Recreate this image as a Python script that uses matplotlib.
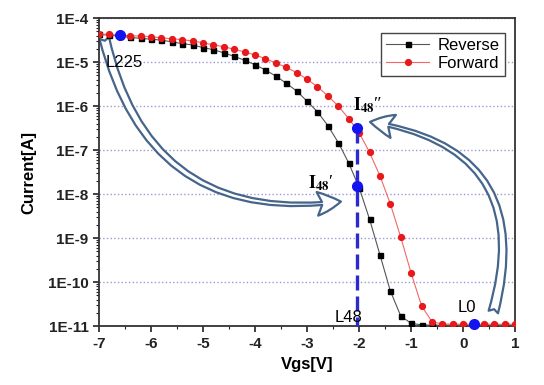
import matplotlib
matplotlib.use("Agg")
import matplotlib.pyplot as plt
import numpy as np
from matplotlib.patches import FancyArrowPatch
from matplotlib.ticker import FuncFormatter, LogLocator, MultipleLocator

# gate voltage sweep (V)
vgs = [-7.0, -6.8, -6.6, -6.4, -6.2, -6.0, -5.8, -5.6, -5.4, -5.2,
       -5.0, -4.8, -4.6, -4.4, -4.2, -4.0, -3.8, -3.6, -3.4, -3.2,
       -3.0, -2.8, -2.6, -2.4, -2.2, -2.0, -1.8, -1.6, -1.4, -1.2,
       -1.0, -0.8, -0.6, -0.4, -0.2, 0.0, 0.2, 0.4, 0.6, 0.8, 1.0]

current_reverse = [4.27e-5, 4.07e-5, 3.89e-5, 3.63e-5, 3.47e-5, 3.31e-5, 3.16e-5, 2.88e-5, 2.63e-5, 2.45e-5,
                   2.14e-5, 1.91e-5, 1.62e-5, 1.35e-5, 1.10e-5, 8.7e-6, 6.6e-6, 4.8e-6, 3.3e-6, 2.2e-6,
                   1.29e-6, 7.4e-7, 3.6e-7, 1.48e-7, 5.1e-8, 1.41e-8, 2.7e-9, 4.2e-10, 6.3e-11, 1.7e-11,
                   1.15e-11, 1.07e-11, 1.05e-11, 1.05e-11, 1.05e-11, 1.05e-11, 1.05e-11, 1.05e-11, 1.05e-11, 1.05e-11, 1.05e-11]

current_forward = [4.37e-5, 4.27e-5, 4.07e-5, 3.98e-5, 3.89e-5, 3.80e-5, 3.55e-5, 3.39e-5, 3.24e-5, 3.02e-5,
                   2.75e-5, 2.45e-5, 2.24e-5, 1.95e-5, 1.70e-5, 1.45e-5, 1.20e-5, 9.5e-6, 7.6e-6, 5.75e-6,
                   4.07e-6, 2.75e-6, 1.70e-6, 1.0e-6, 5.2e-7, 2.5e-7, 8.9e-8, 2.6e-8, 6.0e-9, 1.05e-9,
                   1.6e-10, 2.9e-11, 1.26e-11, 1.12e-11, 1.1e-11, 1.1e-11, 1.1e-11, 1.1e-11, 1.1e-11, 1.1e-11, 1.1e-11]

# highlighted points
marked_labels = ["L225", "I48''", "I48'", "L0"]
marked_vgs = [-6.6, -2.05, -2.05, 0.2]
marked_current = [4.07e-5, 3.1e-7, 1.55e-8, 1.1e-11]

plt.rcParams['font.family'] = ['Liberation Sans', 'DejaVu Sans']
plt.rcParams['axes.unicode_minus'] = False
plt.rcParams['mathtext.fontset'] = 'stix'

fig = plt.figure(figsize=(5.44, 3.85), dpi=100)
ax = fig.add_axes([0.182, 0.153, 0.765, 0.800])

ax.plot(vgs, current_reverse, color='#555555', lw=0.8, marker='s', ms=3.6,
        mfc='black', mec='black', label='Reverse', zorder=3)
ax.plot(vgs, current_forward, color='#f06868', lw=0.8, marker='o', ms=4.2,
        mfc='#e8191b', mec='#e8191b', label='Forward', zorder=4)

# dashed line from I48'' down to the axis
ax.plot([marked_vgs[1], marked_vgs[1]], [marked_current[1], 1e-11], color='#2a2ad0',
        lw=2.4, dashes=(4.5, 1.8), zorder=5, clip_on=False)
ax.plot(marked_vgs, marked_current, ls='none', marker='o', ms=7,
        color='#1414f0', zorder=6, clip_on=False)

ax.set_yscale('log')
ax.set_xlim(-7, 1)
ax.set_ylim(1e-11, 1e-4)

ax.xaxis.set_major_locator(MultipleLocator(1))
ax.xaxis.set_minor_locator(MultipleLocator(0.5))
ax.yaxis.set_major_locator(LogLocator(base=10, numticks=20))
ax.yaxis.set_minor_locator(LogLocator(base=10, subs=np.arange(2, 10), numticks=20))
ax.yaxis.set_major_formatter(FuncFormatter(lambda v, p: f"1E{int(round(np.log10(v)))}"))
ax.xaxis.set_major_formatter(FuncFormatter(lambda v, p: f"{int(round(v))}"))

ax.tick_params(which='major', direction='out', length=4, width=1.2, labelsize=11, colors='#222222')
ax.tick_params(which='minor', direction='out', length=2, width=0.8, colors='#222222')
for lab in ax.get_xticklabels() + ax.get_yticklabels():
    lab.set_fontweight('bold')
for sp in ax.spines.values():
    sp.set_linewidth(1.3)
    sp.set_color('#333333')

ax.yaxis.grid(True, which='major', ls=':', lw=1.0, color='#9a9ad8')
ax.set_axisbelow(True)

ax.set_xlabel('Vgs[V]', fontsize=12, fontweight='bold', labelpad=5)
ax.set_ylabel('Current[A]', fontsize=12, fontweight='bold', labelpad=8)

leg = ax.legend(loc='upper right', bbox_to_anchor=(0.995, 0.98), fontsize=12, fancybox=False,
                edgecolor='#444444', framealpha=1, handlelength=2.6, borderpad=0.3,
                labelspacing=0.2, handletextpad=0.5)
leg.get_frame().set_linewidth(1.0)

# labels for the marked points
ax.text(-6.87, 1e-5, "L225", fontsize=12, va='center', ha='left', zorder=7)
ax.text(-2.48, 10**-10.8, "L48", fontsize=12, va='center', ha='left', zorder=7)
ax.text(-0.10, 10**-10.57, "L0", fontsize=12, va='center', ha='left', zorder=7)
ax.text(-2.12, 10**-5.98, r"$\mathbf{I}_{\mathbf{48}}$″", fontsize=13, va='center', ha='left',
        family=['Liberation Serif', 'DejaVu Serif'], zorder=7)
ax.text(-2.98, 10**-7.75, r"$\mathbf{I}_{\mathbf{48}}$′", fontsize=13, va='center', ha='left',
        family=['Liberation Serif', 'DejaVu Serif'], zorder=7)

# hollow curved arrows
arrow_style = "fancy,head_length=1.7,head_width=1.7,tail_width=0.7"
a1 = FancyArrowPatch((-6.90, 10**-4.45), (-2.35, 10**-8.17), arrowstyle=arrow_style,
                     connectionstyle="arc3,rad=0.45", mutation_scale=10,
                     fc='white', ec='#45658a', lw=1.6, zorder=2, shrinkA=0, shrinkB=0)
a2 = FancyArrowPatch((0.58, 10**-10.68), (-1.79, 10**-6.36), arrowstyle=arrow_style,
                     connectionstyle="arc3,rad=0.56", mutation_scale=10,
                     fc='white', ec='#45658a', lw=1.6, zorder=2, shrinkA=0, shrinkB=0)
ax.add_patch(a1)
ax.add_patch(a2)

fig.savefig('out.png', dpi=100)
